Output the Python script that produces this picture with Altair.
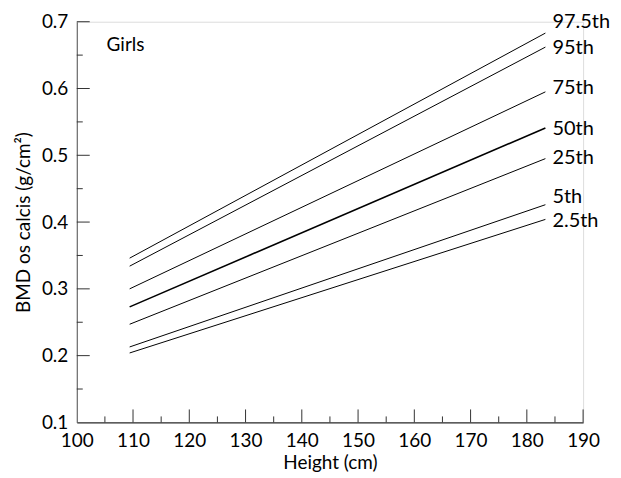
import altair as alt
import pandas as pd

# Data
percentiles = ["97.5th", "95th", "75th", "50th", "25th", "5th", "2.5th"]
height_start = 109.4
height_end = 183.3
bmd_start = [0.346, 0.334, 0.300, 0.273, 0.247, 0.213, 0.204]
bmd_end = [0.683, 0.662, 0.595, 0.541, 0.495, 0.426, 0.404]
label_y = [0.700, 0.661, 0.600, 0.540, 0.496, 0.438, 0.402]

x_major = [110, 120, 130, 140, 150, 160, 170, 180, 190]
x_minor = [105, 115, 125, 135, 145, 155, 165, 175, 185]
y_major = [0.2, 0.3, 0.4, 0.5, 0.6, 0.7]
y_minor = [0.15, 0.25, 0.35, 0.45, 0.55, 0.65]
x_labels = [100, 110, 120, 130, 140, 150, 160, 170, 180, 190]
y_labels = [0.1, 0.2, 0.3, 0.4, 0.5, 0.6, 0.7]

W, H = 508, 402
FONT = "Lato"
FS = 19

rows = []
for p, s, e in zip(percentiles, bmd_start, bmd_end):
    sw = 1.6 if p == "50th" else 1.0
    rows.append({"pct": p, "height": height_start, "bmd": s, "sw": sw})
    rows.append({"pct": p, "height": height_end, "bmd": e, "sw": sw})
lines_df = pd.DataFrame(rows)

labels_df = pd.DataFrame({"pct": percentiles, "height": [height_end] * len(percentiles), "bmd": label_y})

xs = alt.Scale(domain=[100, 190], nice=False, zero=False)
ys = alt.Scale(domain=[0.1, 0.7], nice=False, zero=False)

lines = alt.Chart(lines_df).mark_line(color="black").encode(
    x=alt.X("height:Q", scale=xs, axis=alt.Axis(
        values=x_labels, ticks=False, grid=False, domainColor="black", domainWidth=1,
        labelFont=FONT, labelFontSize=FS, labelColor="black", labelPadding=9,
        title="Height (cm)", titleFont=FONT, titleFontSize=FS, titleFontWeight="normal",
        titleColor="black", titlePadding=3, labelFlush=False)),
    y=alt.Y("bmd:Q", scale=ys, axis=alt.Axis(
        values=y_labels, format=".1f", ticks=False, grid=False, domainColor="#555", domainWidth=1,
        labelFont=FONT, labelFontSize=FS, labelColor="black", labelPadding=9,
        title="BMD os calcis (g/cm²)", titleFont=FONT, titleFontSize=FS, titleFontWeight="normal",
        titleColor="black", titlePadding=8, labelFlush=False)),
    detail="pct:N",
    strokeWidth=alt.StrokeWidth("sw:Q", scale=None),
)

texts = alt.Chart(labels_df).mark_text(align="left", baseline="middle", dx=7, font=FONT, fontSize=20, color="black").encode(
    x=alt.X("height:Q", scale=xs), y=alt.Y("bmd:Q", scale=ys), text="pct:N"
)

girls_df = pd.DataFrame({"height": [105.3], "bmd": [0.665], "t": ["Girls"]})
girls = alt.Chart(girls_df).mark_text(align="left", baseline="middle", font=FONT, fontSize=FS, color="black").encode(
    x=alt.X("height:Q", scale=xs), y=alt.Y("bmd:Q", scale=ys), text="t:N"
)

xmaj = alt.Chart(pd.DataFrame({"v": x_major})).mark_rule(color="#333", strokeWidth=1).encode(
    x=alt.X("v:Q", scale=xs), y=alt.value(H), y2=alt.value(H - 13))
xmin = alt.Chart(pd.DataFrame({"v": x_minor})).mark_rule(color="#333", strokeWidth=1).encode(
    x=alt.X("v:Q", scale=xs), y=alt.value(H), y2=alt.value(H - 6))
ymaj = alt.Chart(pd.DataFrame({"v": y_major})).mark_rule(color="#333", strokeWidth=1).encode(
    y=alt.Y("v:Q", scale=ys), x=alt.value(0), x2=alt.value(13))
ymin = alt.Chart(pd.DataFrame({"v": y_minor})).mark_rule(color="#333", strokeWidth=1).encode(
    y=alt.Y("v:Q", scale=ys), x=alt.value(0), x2=alt.value(6))

chart = alt.layer(lines, texts, girls, xmaj, xmin, ymaj, ymin).properties(
    width=W, height=H,
    autosize=alt.AutoSizeParams(type="none"),
    padding={"left": 69, "top": 13, "right": 30, "bottom": 55},
).configure_view(stroke=None).configure(background="white")

chart.save("out.html", embed_options={"renderer": "svg", "actions": False})
